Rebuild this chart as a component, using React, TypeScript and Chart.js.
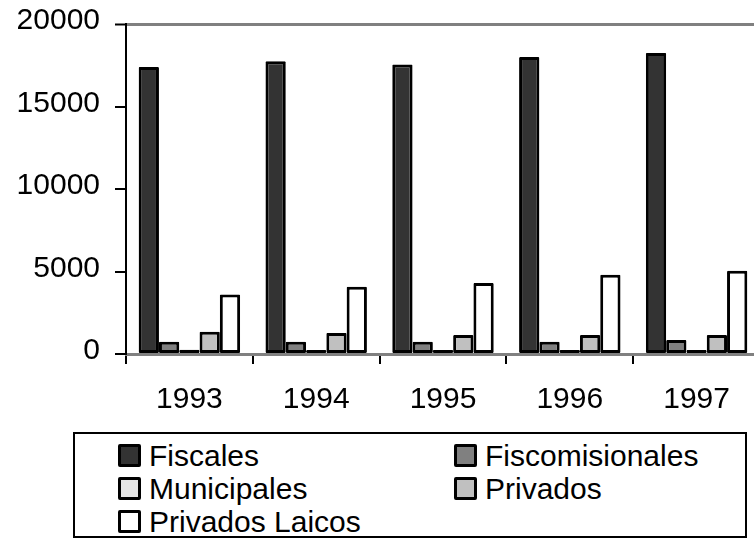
import React, { useEffect, useRef } from 'react';
import { Chart, registerables } from 'chart.js';

Chart.register(...registerables);

const categories = ['1993', '1994', '1995', '1996', '1997'];
const seriesNames = ['Fiscales', 'Fiscomisionales', 'Municipales', 'Privados', 'Privados Laicos'];
const fiscales = [17400, 17750, 17550, 18000, 18250];
const fiscomisionales = [750, 750, 750, 750, 850];
const municipales = [260, 240, 250, 250, 240];
const privados = [1350, 1280, 1150, 1150, 1150];
const privadosLaicos = [3600, 4080, 4300, 4800, 5050];
const yTickValues = [0, 5000, 10000, 15000, 20000];
const seriesColors = ['#333333', '#808080', '#e6e6e6', '#c0c0c0', '#ffffff'];

const seriesData = [fiscales, fiscomisionales, municipales, privados, privadosLaicos];

const FONT = '"Liberation Sans", Arial, Helvetica, sans-serif';

export default function App() {
  const ref = useRef<HTMLCanvasElement>(null);

  useEffect(() => {
    Chart.defaults.font.family = FONT;
    Chart.defaults.color = '#000';
    const chart = new Chart(ref.current as HTMLCanvasElement, {
      type: 'bar',
      data: {
        labels: categories,
        datasets: seriesNames.map((name, i) => ({
          label: name,
          data: seriesData[i],
          backgroundColor: seriesColors[i],
          borderColor: '#000000',
          borderWidth: 3,
          borderSkipped: false,
          borderRadius: 1,
          categoryPercentage: 0.8,
          barPercentage: 1.0,
        })),
      },
      options: {
        responsive: false,
        animation: false,
        events: [],
        layout: { padding: { left: 17, top: 24, right: 20, bottom: 0 } },
        plugins: {
          legend: { display: false },
          tooltip: { enabled: false },
        },
        scales: {
          x: {
            grid: {
              offset: true,
              drawOnChartArea: false,
              drawTicks: true,
              tickLength: 10,
              tickColor: '#000',
              tickWidth: 2,
              lineWidth: 2,
            },
            border: { color: '#808080', width: 3 },
            ticks: { font: { size: 30 }, color: '#000', padding: 18, maxRotation: 0 },
            afterFit: (scale: any) => {
              scale.height = 60;
              scale.paddingLeft = 0;
              scale.paddingRight = 0;
            },
          },
          y: {
            min: 0,
            max: 20000,
            afterBuildTicks: (scale: any) => {
              scale.ticks = yTickValues.map((v) => ({ value: v }));
            },
            grid: {
              drawOnChartArea: true,
              drawTicks: true,
              tickLength: 11,
              tickColor: '#000',
              tickWidth: 2,
              color: (ctx: any) => (ctx.tick && ctx.tick.value === 20000 ? '#808080' : 'rgba(0,0,0,0)'),
              lineWidth: (ctx: any) => (ctx.tick && ctx.tick.value === 20000 ? 3 : 2),
            },
            border: { color: '#000', width: 2 },
            ticks: {
              font: { size: 30 },
              color: '#000',
              padding: 15,
              labelOffset: -3,
              callback: (v: any) => String(v),
            },
            afterFit: (scale: any) => {
              scale.width = 109;
              scale.paddingTop = 0;
              scale.paddingBottom = 0;
            },
          },
        },
      },
    });
    return () => chart.destroy();
  }, []);

  return (
    <div
      style={{
        position: 'fixed',
        left: 0,
        top: 0,
        width: 754,
        height: 539,
        overflow: 'hidden',
        background: '#fff',
        fontFamily: FONT,
      }}
    >
      <canvas ref={ref} width={780} height={414} style={{ display: 'block', width: 780, height: 414 }} />
      <div
        style={{
          position: 'absolute',
          left: 73,
          top: 432,
          width: 674,
          height: 106,
          border: '2px solid #000',
          boxSizing: 'border-box',
          paddingTop: 5,
          paddingLeft: 43,
          display: 'grid',
          gridTemplateColumns: '336px auto',
          gridAutoRows: '33px',
        }}
      >
        {seriesNames.map((name, i) => (
          <div key={name} style={{ display: 'flex', alignItems: 'center', height: 33 }}>
            <span
              style={{
                display: 'inline-block',
                width: 23,
                height: 23,
                boxSizing: 'border-box',
                border: '3px solid #000',
                borderRadius: 2,
                background: seriesColors[i],
                marginRight: 8,
                flex: 'none',
              }}
            />
            <span style={{ fontSize: 30, lineHeight: '33px', color: '#000', whiteSpace: 'nowrap' }}>{name}</span>
          </div>
        ))}
      </div>
    </div>
  );
}
